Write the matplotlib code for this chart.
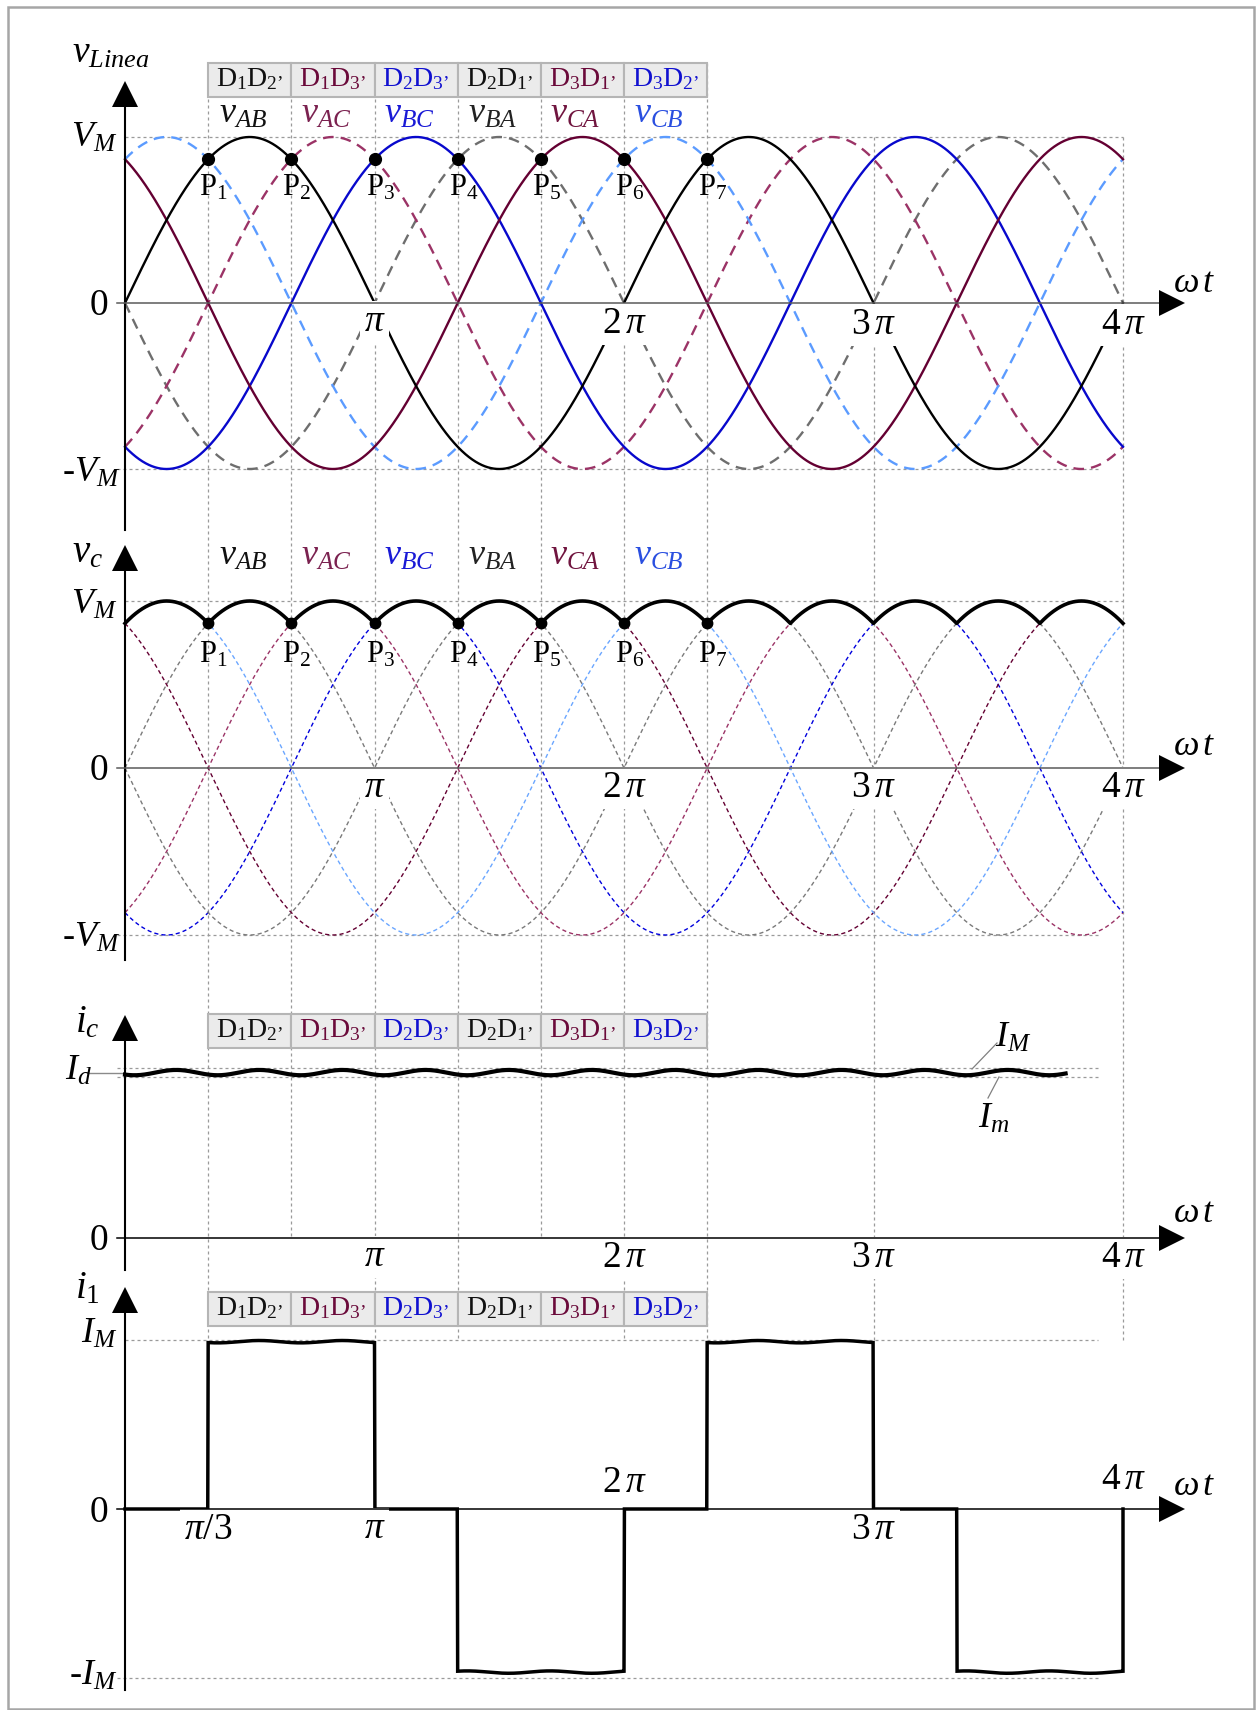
import numpy as np
import matplotlib.pyplot as plt
from matplotlib.patches import Rectangle

plt.rcParams['font.family'] = ['Liberation Serif', 'DejaVu Serif']
plt.rcParams['mathtext.fontset'] = 'custom'
plt.rcParams['mathtext.rm'] = 'Liberation Serif'
plt.rcParams['mathtext.it'] = 'Liberation Serif:italic'
plt.rcParams['mathtext.bf'] = 'Liberation Serif:bold'

# line voltages (per unit of V_M): v = sin(wt + k*pi/3)
lines = ['AB', 'AC', 'BC', 'BA', 'CA', 'CB']
phase_k = [0, -1, -2, 3, 2, 1]
solid_top = ['BC', 'CA', 'AB']
dashed_top = ['BA', 'AC', 'CB']
color_top = {'AB': '#000000', 'CA': '#640032', 'BC': '#0808CC',
             'BA': '#6E6E6E', 'AC': '#9B3366', 'CB': '#5B9BFF'}
color_mid = {'AB': '#7A7A7A', 'BA': '#7A7A7A', 'CA': '#640032',
             'AC': '#9B3366', 'BC': '#0000DD', 'CB': '#6AA6FF'}

# conducting diode pairs and the line voltage on the load, P1..P7
pairs = [r'$\mathrm{D_1D_{2’}}$', r'$\mathrm{D_1D_{3’}}$', r'$\mathrm{D_2D_{3’}}$',
         r'$\mathrm{D_2D_{1’}}$', r'$\mathrm{D_3D_{1’}}$', r'$\mathrm{D_3D_{2’}}$']
pair_colors = ['#111111', '#6A0A3A', '#1010D0', '#111111', '#6A0A3A', '#1010D0']
peak_labels = ['AB', 'AC', 'BC', 'BA', 'CA', 'CB']
peak_colors = ['#111111', '#7B2250', '#1A1AD6', '#222222', '#70153F', '#2A4FE0']
n_points = 7

# dc side current ripple (I_M, I_m are the outer edges of the trace)
Id = 1.0
IM, Im = 1.03, 0.975
ic_swing = 0.016
ic_lag = 0.12
ic_end = 3.77          # in units of pi

# ac line current, sign per pi/3 interval
i1_sign = [0, 1, 1, 0, -1, -1, 0, 1, 1, 0, -1, -1]
i1_top, i1_bottom = 0.99, 0.965
i1_ripple = 0.007

# layout in pixels
W, H = 1257, 1710
X0, XPI = 125.0, 249.5
ZERO = [303, 768, 1238, 1509]
UNIT = [166, 167, 165, 169]


def tx(px):
    return (px - X0) / XPI * np.pi


def dx(px):
    return px / XPI * np.pi


def ty(p, px):
    return (ZERO[p] - px) / UNIT[p]


theta = np.linspace(0, 4 * np.pi, 2401)
v = {n: np.sin(theta + k * np.pi / 3) for n, k in zip(lines, phase_k)}
vc = np.max(np.vstack([v[n] for n in lines]), axis=0)
pk = np.arange(1, n_points + 1) * np.pi / 3
vc_pk = np.max(np.vstack([np.sin(pk + k * np.pi / 3) for k in phase_k]), axis=0)

th_c = theta[theta <= ic_end * np.pi]
ic = (IM + Im) / 2 + ic_swing * np.cos(6 * (th_c - np.pi / 6 - ic_lag))

seg = np.minimum((theta // (np.pi / 3)).astype(int), len(i1_sign) - 1)
sgn = np.array(i1_sign)[seg]
mag = np.where(sgn > 0, i1_top, i1_bottom)
i1 = sgn * (mag + i1_ripple * np.cos(6 * (theta - np.pi / 6 - ic_lag)))
# current returns to zero at the end of the window
th_1 = np.append(theta, 4 * np.pi)
i1 = np.append(i1, 0.0)

fig = plt.figure(figsize=(W / 100, H / 100), dpi=100)
axes = []
for p in range(4):
    ax = fig.add_axes([0, 0, 1, 1])
    ax.set_xlim(tx(0), tx(W))
    ax.set_ylim(ty(p, H), ty(p, 0))
    ax.axis('off')
    axes.append(ax)

TICK = 27
DOT = dict(color='#9A9A9A', lw=0.9, ls=(0, (2.4, 2.4)), zorder=1)
MASK = dict(facecolor='white', edgecolor='none', pad=3)


def frame_axes(ax, p, top_px, bottom_px, hcolor):
    ax.plot([0, 0], [ty(p, bottom_px), ty(p, top_px + 13)], color='k', lw=1.5, zorder=6)
    ax.plot(0, ty(p, top_px), marker='^', ms=18.5, mew=0, color='k', zorder=6)
    ax.plot([tx(117), tx(1163)], [0, 0], color=hcolor, lw=1.1, zorder=6)
    ax.plot(tx(1172), 0, marker='>', ms=18.5, mew=0, color='k', zorder=6)


def header(ax, p, top_px):
    for k in range(6):
        x0 = (k + 1) * np.pi / 3
        ax.add_patch(Rectangle((x0, ty(p, top_px + 34)), np.pi / 3,
                               ty(p, top_px) - ty(p, top_px + 34),
                               fc='#EBEBEB', ec='#B5B5B5', lw=1.5, zorder=3))
        ax.text(x0 + np.pi / 6, ty(p, top_px + 23), pairs[k], color=pair_colors[k],
                fontsize=20, ha='center', va='baseline', zorder=4)


def ticks(ax, p, items):
    for xv, s, ypx in items:
        ax.text(xv, ty(p, ypx), s, fontsize=TICK, ha='center', va='center',
                bbox=MASK, zorder=5)


def omega_t(ax, p, base_px):
    ax.text(tx(1173), ty(p, base_px), r'$\omega\,t$', fontsize=26, ha='left', va='baseline')


# vertical guides across the panels
ax = axes[0]
for k in range(1, n_points + 1):
    bottom = 1238 if k in (2, 5) else 1340
    ax.plot([k * np.pi / 3] * 2, [ty(0, 63), ty(0, bottom)], **DOT)
for k in (3, 4):
    ax.plot([k * np.pi] * 2, [ty(0, 137), ty(0, 1340)], **DOT)

# --- panel 1: line voltages ---
ax = axes[0]
ax.plot([0, tx(1123)], [1, 1], **DOT)
ax.plot([tx(117), tx(1098)], [-1, -1], **DOT)
for n in dashed_top:
    ax.plot(theta, v[n], color=color_top[n], lw=1.7, ls=(0, (4.5, 3)), zorder=2)
for n in solid_top:
    ax.plot(theta, v[n], color=color_top[n], lw=1.7, zorder=2)
ax.plot(pk, vc_pk, 'o', color='k', ms=8.5, zorder=4)
for k in range(n_points):
    ax.text(pk[k] - dx(9), ty(0, 173), r'$\mathrm{P}_{%d}$' % (k + 1), fontsize=22,
            ha='left', va='top', zorder=5)
header(ax, 0, 63)
for k in range(6):
    ax.text((k + 1.5) * np.pi / 3 - dx(7), ty(0, 123), r'$v_{%s}$' % peak_labels[k],
            color=peak_colors[k], fontsize=26, ha='center', va='baseline')
frame_axes(ax, 0, 94, 530, '#5A5A5A')
ticks(ax, 0, [(np.pi, r'$\pi$', 322), (2 * np.pi, r'$2\,\pi$', 324),
              (3 * np.pi, r'$3\,\pi$', 325), (4 * np.pi, r'$4\,\pi$', 325)])
omega_t(ax, 0, 292)
ax.text(tx(72), ty(0, 63), r'$v_{Linea}$', fontsize=27, ha='left', va='baseline')
ax.text(tx(117), ty(0, 147), r'$V_M$', fontsize=26, ha='right', va='baseline')
ax.text(tx(108), ty(0, 315), '0', fontsize=TICK, ha='right', va='baseline')
ax.text(tx(120), ty(0, 482), r'-$V_M$', fontsize=26, ha='right', va='baseline')

# --- panel 2: rectified output voltage ---
ax = axes[1]
ax.plot([0, tx(1123)], [1, 1], **DOT)
ax.plot([tx(117), tx(1098)], [-1, -1], **DOT)
for n in lines:
    ax.plot(theta, v[n], color=color_mid[n], lw=1.0, ls=(0, (3, 2.2)), zorder=2)
ax.plot(theta, vc, color='k', lw=2.6, zorder=3)
ax.plot(pk, vc_pk, 'o', color='k', ms=7.5, zorder=4)
for k in range(n_points):
    ax.text(pk[k] - dx(9), ty(1, 640), r'$\mathrm{P}_{%d}$' % (k + 1), fontsize=22,
            ha='left', va='top', zorder=5)
for k in range(6):
    ax.text((k + 1.5) * np.pi / 3 - dx(7), ty(1, 565), r'$v_{%s}$' % peak_labels[k],
            color=peak_colors[k], fontsize=26, ha='center', va='baseline')
frame_axes(ax, 1, 558, 960, '#5A5A5A')
ticks(ax, 1, [(np.pi, r'$\pi$', 788), (2 * np.pi, r'$2\,\pi$', 788),
              (3 * np.pi, r'$3\,\pi$', 788), (4 * np.pi, r'$4\,\pi$', 788)])
omega_t(ax, 1, 755)
ax.text(tx(72), ty(1, 562), r'$v_c$', fontsize=28, ha='left', va='baseline')
ax.text(tx(117), ty(1, 614), r'$V_M$', fontsize=26, ha='right', va='baseline')
ax.text(tx(108), ty(1, 780), '0', fontsize=TICK, ha='right', va='baseline')
ax.text(tx(120), ty(1, 947), r'-$V_M$', fontsize=26, ha='right', va='baseline')

# --- panel 3: dc current ---
ax = axes[2]
ax.plot([tx(117), tx(1098)], [IM, IM], **DOT)
ax.plot([tx(117), tx(1098)], [Im, Im], **DOT)
ax.plot([tx(88), 0], [Id, Id], color='#8A8A8A', lw=1.0, zorder=2)
ax.plot(th_c, ic, color='k', lw=3.0, zorder=3)
header(ax, 2, 1014)
frame_axes(ax, 2, 1028, 1270, 'k')
ticks(ax, 2, [(np.pi, r'$\pi$', 1257), (2 * np.pi, r'$2\,\pi$', 1258),
              (3 * np.pi, r'$3\,\pi$', 1258), (4 * np.pi, r'$4\,\pi$', 1258)])
omega_t(ax, 2, 1222)
ax.text(tx(75), ty(2, 1032), r'$i_c$', fontsize=28, ha='left', va='baseline')
ax.text(tx(92), ty(2, 1080), r'$I_d$', fontsize=26, ha='right', va='baseline')
ax.text(tx(108), ty(2, 1250), '0', fontsize=TICK, ha='right', va='baseline')
ax.plot([tx(997), tx(972)], [ty(2, 1043), ty(2, 1069)], color='#808080', lw=0.9)
ax.text(tx(995), ty(2, 1047), r'$I_M$', fontsize=26, ha='left', va='baseline')
ax.plot([tx(999), tx(988)], [ty(2, 1077), ty(2, 1098)], color='#808080', lw=0.9)
ax.text(tx(978), ty(2, 1128), r'$I_m$', fontsize=26, ha='left', va='baseline')

# --- panel 4: ac line current ---
ax = axes[3]
ax.plot([0, tx(1098)], [1, 1], **DOT)
ax.plot([tx(117), tx(1098)], [-1, -1], **DOT)
ax.plot(th_1, i1, color='k', lw=2.5, zorder=3, solid_joinstyle='miter')
header(ax, 3, 1292)
frame_axes(ax, 3, 1300, 1690, 'k')
ticks(ax, 3, [(np.pi / 3, r'$\pi/3$', 1530), (np.pi, r'$\pi$', 1529),
              (2 * np.pi, r'$2\,\pi$', 1483), (3 * np.pi, r'$3\,\pi$', 1530),
              (4 * np.pi, r'$4\,\pi$', 1480)])
omega_t(ax, 3, 1495)
ax.text(tx(75), ty(3, 1298), r'$i_1$', fontsize=28, ha='left', va='baseline')
ax.text(tx(117), ty(3, 1343), r'$I_M$', fontsize=26, ha='right', va='baseline')
ax.text(tx(108), ty(3, 1522), '0', fontsize=TICK, ha='right', va='baseline')
ax.text(tx(117), ty(3, 1685), r'-$I_M$', fontsize=26, ha='right', va='baseline')

fig.add_artist(Rectangle((8 / W, 1 - 1709 / H), (1254 - 8) / W, (1709 - 7) / H,
                         transform=fig.transFigure, fill=False, ec='#A6A6A6', lw=1.8))

fig.savefig('out.png', dpi=100)
